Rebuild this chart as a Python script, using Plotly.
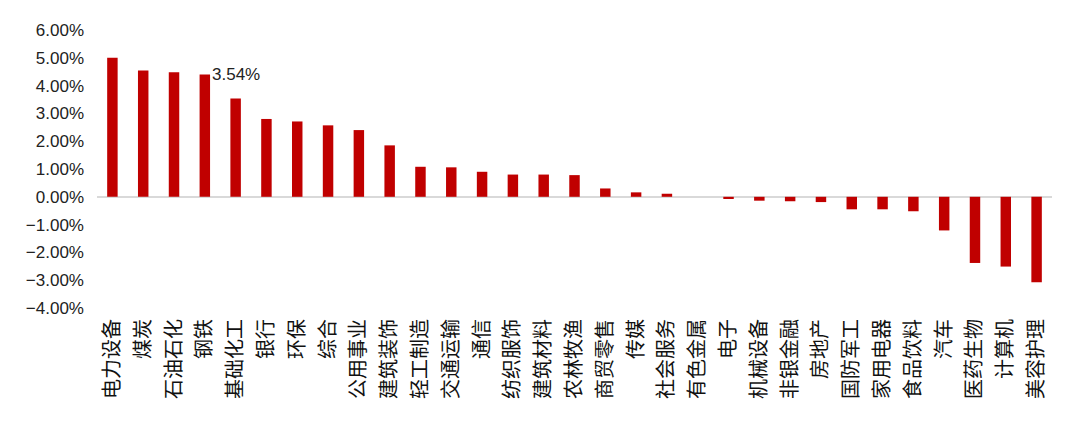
import plotly.graph_objects as go

categories = ["电力设备", "煤炭", "石油石化", "钢铁", "基础化工", "银行", "环保", "综合",
              "公用事业", "建筑装饰", "轻工制造", "交通运输", "通信", "纺织服饰", "建筑材料",
              "农林牧渔", "商贸零售", "传媒", "社会服务", "有色金属", "电子", "机械设备",
              "非银金融", "房地产", "国防军工", "家用电器", "食品饮料", "汽车", "医药生物",
              "计算机", "美容护理"]
values = [5.00, 4.54, 4.48, 4.40, 3.54, 2.80, 2.71, 2.57,
          2.40, 1.85, 1.08, 1.06, 0.90, 0.80, 0.80,
          0.78, 0.30, 0.16, 0.11, 0.00, -0.08, -0.14,
          -0.16, -0.19, -0.45, -0.45, -0.52, -1.21, -2.38,
          -2.51, -3.07]
tick_vals = [-4, -3, -2, -1, 0, 1, 2, 3, 4, 5, 6]
tick_text = [f"{v:.2f}%".replace("-", "\u2212") for v in tick_vals]
label_index = 4

fig = go.Figure()
fig.add_trace(go.Bar(x=categories, y=values, marker=dict(color="#C00000", line=dict(width=0)),
                     width=0.34, showlegend=False))

fig.add_annotation(x=categories[label_index], y=values[label_index],
                   text=f"{values[label_index]:.2f}%", showarrow=False,
                   yanchor="middle", yshift=24,
                   font=dict(family="Liberation Sans, Arial", size=17, color="#222222"))

# the page body has an 8px default margin; size the figure to fit the window
fig.update_layout(
    width=1072, height=427,
    margin=dict(l=89, r=28, t=22, b=127, autoexpand=False),
    paper_bgcolor="white", plot_bgcolor="white",
    font=dict(family="Liberation Sans, Arial", color="#222222"),
    xaxis=dict(type="category", tickangle=-90, showgrid=False, showline=False, ticks="",
               tickfont=dict(family="Noto Sans CJK SC", size=20, color="#111111"),
               ticklabelstandoff=6, automargin=False,
               range=[-0.5, len(categories) - 0.5]),
    yaxis=dict(range=[-4, 6], tickvals=tick_vals, ticktext=tick_text,
               showgrid=False, showline=False, ticks="", automargin=False,
               zeroline=True, zerolinecolor="#D9D9D9", zerolinewidth=1.5,
               tickfont=dict(family="Liberation Sans, Arial", size=17, color="#222222"),
               ticklabelstandoff=12),
)

fig.write_html("out.html")
